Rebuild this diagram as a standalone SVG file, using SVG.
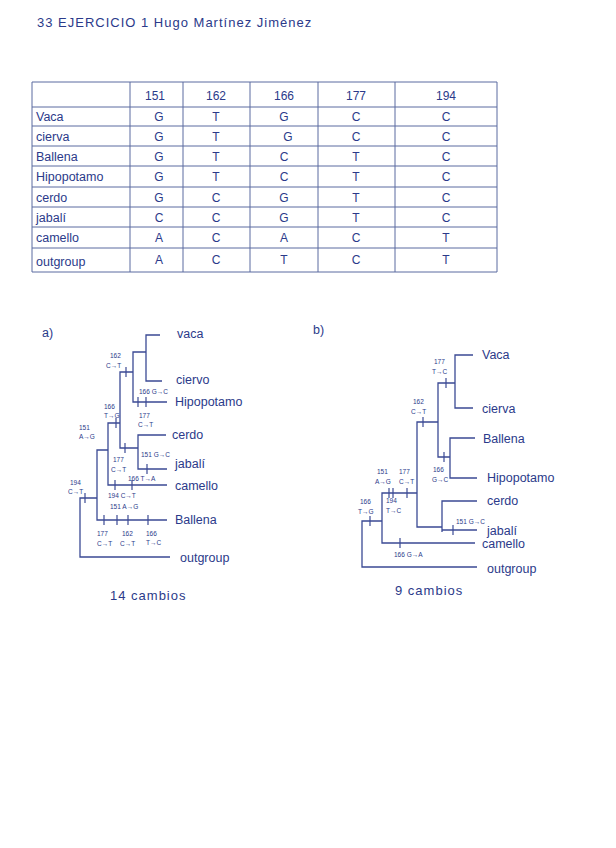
<svg xmlns="http://www.w3.org/2000/svg" width="616" height="848" viewBox="0 0 616 848">
<style>
text{font-family:"Liberation Sans","DejaVu Sans",sans-serif;fill:#2b3a8a}
.t{font-size:13px;letter-spacing:1px}
.h{font-size:12px;text-anchor:middle}
.c{font-size:12px;text-anchor:middle}
.r{font-size:12.5px}
.lb{font-size:12.5px}
.m{font-size:6.5px}
.grid line{stroke:#5a6aa0;stroke-width:1}
.br{stroke:#3b4a94;stroke-width:1.3;fill:none}
.tk{stroke:#3b4a94;stroke-width:1.2}
</style>
<rect width="616" height="848" fill="#ffffff"/>
<text class="t" x="37" y="27">33 EJERCICIO 1 Hugo Martínez Jiménez</text>

<g id="table">
<g class="grid">
<line x1="32" y1="82" x2="497" y2="82"/>
<line x1="32" y1="107" x2="497" y2="107"/>
<line x1="32" y1="126" x2="497" y2="126"/>
<line x1="32" y1="146" x2="497" y2="146"/>
<line x1="32" y1="166" x2="497" y2="166"/>
<line x1="32" y1="187" x2="497" y2="187"/>
<line x1="32" y1="207" x2="497" y2="207"/>
<line x1="32" y1="227" x2="497" y2="227"/>
<line x1="32" y1="248" x2="497" y2="248"/>
<line x1="32" y1="272" x2="497" y2="272"/>
<line x1="32" y1="82" x2="32" y2="272"/>
<line x1="130" y1="82" x2="130" y2="272"/>
<line x1="183" y1="82" x2="183" y2="272"/>
<line x1="250" y1="82" x2="250" y2="272"/>
<line x1="318" y1="82" x2="318" y2="272"/>
<line x1="395" y1="82" x2="395" y2="272"/>
<line x1="497" y1="82" x2="497" y2="272"/>
</g>
<text class="h" x="155" y="100">151</text>
<text class="h" x="216" y="100">162</text>
<text class="h" x="284" y="100">166</text>
<text class="h" x="356" y="100">177</text>
<text class="h" x="446" y="100">194</text>
<text class="r" x="36" y="121">Vaca</text>
<text class="r" x="36" y="141">cierva</text>
<text class="r" x="36" y="161">Ballena</text>
<text class="r" x="36" y="181">Hipopotamo</text>
<text class="r" x="36" y="202">cerdo</text>
<text class="r" x="36" y="222">jabalí</text>
<text class="r" x="36" y="242">camello</text>
<text class="r" x="36" y="266">outgroup</text>
<g>
<text class="c" x="159" y="121">G</text><text class="c" x="216" y="121">T</text><text class="c" x="284" y="121">G</text><text class="c" x="356" y="121">C</text><text class="c" x="446" y="121">C</text>
<text class="c" x="159" y="141">G</text><text class="c" x="216" y="141">T</text><text class="c" x="288" y="141">G</text><text class="c" x="356" y="141">C</text><text class="c" x="446" y="141">C</text>
<text class="c" x="159" y="161">G</text><text class="c" x="216" y="161">T</text><text class="c" x="284" y="161">C</text><text class="c" x="356" y="161">T</text><text class="c" x="446" y="161">C</text>
<text class="c" x="159" y="181">G</text><text class="c" x="216" y="181">T</text><text class="c" x="284" y="181">C</text><text class="c" x="356" y="181">T</text><text class="c" x="446" y="181">C</text>
<text class="c" x="159" y="202">G</text><text class="c" x="216" y="202">C</text><text class="c" x="284" y="202">G</text><text class="c" x="356" y="202">T</text><text class="c" x="446" y="202">C</text>
<text class="c" x="159" y="222">C</text><text class="c" x="216" y="222">C</text><text class="c" x="284" y="222">G</text><text class="c" x="356" y="222">T</text><text class="c" x="446" y="222">C</text>
<text class="c" x="159" y="242">A</text><text class="c" x="216" y="242">C</text><text class="c" x="284" y="242">A</text><text class="c" x="356" y="242">C</text><text class="c" x="446" y="242">T</text>
<text class="c" x="159" y="264">A</text><text class="c" x="216" y="264">C</text><text class="c" x="284" y="264">T</text><text class="c" x="356" y="264">C</text><text class="c" x="446" y="264">T</text>
</g>
</g>

<!-- Tree a -->
<text class="lb" x="42" y="337">a)</text>
<g id="tree-a-connectors">
<path class="br" d="M160,335 H146 V381 H162"/>
<path class="br" d="M146,352 H133 V402 H167"/>
<path class="br" d="M133,372 H120 V448 H138"/>
<path class="br" d="M166,435 H138 V469 H167"/>
<path class="br" d="M120,423 H108 V485 H167"/>
<path class="br" d="M108,450 H97 V520 H167"/>
<path class="br" d="M97,498 H80 V557 H170"/>
<g class="tk">
<line x1="126" y1="367" x2="126" y2="377"/>
<line x1="138" y1="397" x2="138" y2="407"/>
<line x1="146" y1="397" x2="146" y2="407"/>
<line x1="116" y1="418" x2="116" y2="428"/>
<line x1="125" y1="443" x2="125" y2="453"/>
<line x1="147" y1="464" x2="147" y2="474"/>
<line x1="115" y1="480" x2="115" y2="490"/>
<line x1="132" y1="480" x2="132" y2="490"/>
<line x1="104" y1="515" x2="104" y2="525"/>
<line x1="117" y1="515" x2="117" y2="525"/>
<line x1="128" y1="515" x2="128" y2="525"/>
<line x1="148" y1="515" x2="148" y2="525"/>
<line x1="85" y1="493" x2="85" y2="503"/>
</g>
</g>
<g id="a-labels">
<text class="m" x="110" y="358">162</text><text class="m" x="106" y="368">C→T</text>
<text class="m" x="139" y="394">166 G→C</text>
<text class="m" x="139" y="418">177</text><text class="m" x="138" y="427">C→T</text>
<text class="m" x="104" y="409">166</text><text class="m" x="104" y="418">T→G</text>
<text class="m" x="79" y="430">151</text><text class="m" x="79" y="439">A→G</text>
<text class="m" x="141" y="457">151 G→C</text>
<text class="m" x="113" y="462">177</text><text class="m" x="111" y="472">C→T</text>
<text class="m" x="128" y="481">166 T→A</text>
<text class="m" x="108" y="498">194 C→T</text>
<text class="m" x="110" y="509">151 A→G</text>
<text class="m" x="70" y="485">194</text><text class="m" x="68" y="494">C→T</text>
<text class="m" x="97" y="536">177</text><text class="m" x="97" y="546">C→T</text>
<text class="m" x="122" y="536">162</text><text class="m" x="120" y="546">C→T</text>
<text class="m" x="146" y="536">166</text><text class="m" x="146" y="545">T→C</text>
</g>
<g id="a-vaca"><text class="lb" x="177" y="338">vaca</text></g>
<g id="a-ciervo"><text class="lb" x="176" y="384">ciervo</text></g>
<g id="a-hipopotamo"><text class="lb" x="175" y="406">Hipopotamo</text></g>
<g id="a-cerdo"><text class="lb" x="172" y="439">cerdo</text></g>
<g id="a-jabali"><text class="lb" x="175" y="468">jabalí</text></g>
<g id="a-camello"><text class="lb" x="175" y="490">camello</text></g>
<g id="a-ballena"><text class="lb" x="175" y="524">Ballena</text></g>
<g id="a-outgroup"><text class="lb" x="180" y="562">outgroup</text></g>
<text class="t" x="110" y="600">14 cambios</text>

<!-- Tree b -->
<text class="lb" x="313" y="334">b)</text>
<g id="tree-b-connectors">
<path class="br" d="M473,355 H455 V408 H473"/>
<path class="br" d="M455,383 H438 V457 H450"/>
<path class="br" d="M475,438 H450 V478 H477"/>
<path class="br" d="M438,422 H417 V527 H442"/>
<path class="br" d="M477,501 H442 V532"/>
<path class="br" d="M442,530 H477"/>
<path class="br" d="M417,493 H382 V543 H475"/>
<path class="br" d="M382,521 H362 V567 H477"/>
<g class="tk">
<line x1="446" y1="378" x2="446" y2="388"/>
<line x1="423" y1="417" x2="423" y2="427"/>
<line x1="444" y1="452" x2="444" y2="462"/>
<line x1="453" y1="525" x2="453" y2="535"/>
<line x1="389" y1="488" x2="389" y2="498"/>
<line x1="393" y1="488" x2="393" y2="498"/>
<line x1="407" y1="488" x2="407" y2="498"/>
<line x1="400" y1="538" x2="400" y2="548"/>
<line x1="370" y1="516" x2="370" y2="526"/>
</g>
</g>
<g id="b-labels">
<text class="m" x="434" y="364">177</text><text class="m" x="432" y="374">T→C</text>
<text class="m" x="413" y="404">162</text><text class="m" x="411" y="414">C→T</text>
<text class="m" x="433" y="472">166</text><text class="m" x="432" y="482">G→C</text>
<text class="m" x="456" y="524">151 G→C</text>
<text class="m" x="377" y="474">151</text><text class="m" x="375" y="484">A→G</text>
<text class="m" x="399" y="474">177</text><text class="m" x="399" y="484">C→T</text>
<text class="m" x="386" y="503">194</text><text class="m" x="386" y="513">T→C</text>
<text class="m" x="360" y="504">166</text><text class="m" x="358" y="514">T→G</text>
<text class="m" x="394" y="557">166  G→A</text>
</g>
<g id="b-vaca"><text class="lb" x="482" y="359">Vaca</text></g>
<g id="b-cierva"><text class="lb" x="482" y="413">cierva</text></g>
<g id="b-ballena"><text class="lb" x="483" y="443">Ballena</text></g>
<g id="b-hipopotamo"><text class="lb" x="487" y="482">Hipopotamo</text></g>
<g id="b-cerdo"><text class="lb" x="487" y="505">cerdo</text></g>
<g id="b-jabali"><text class="lb" x="487" y="535">jabalí</text></g>
<g id="b-camello"><text class="lb" x="482" y="548">camello</text></g>
<g id="b-outgroup"><text class="lb" x="487" y="573">outgroup</text></g>
<text class="t" x="395" y="595">9 cambios</text>
</svg>
